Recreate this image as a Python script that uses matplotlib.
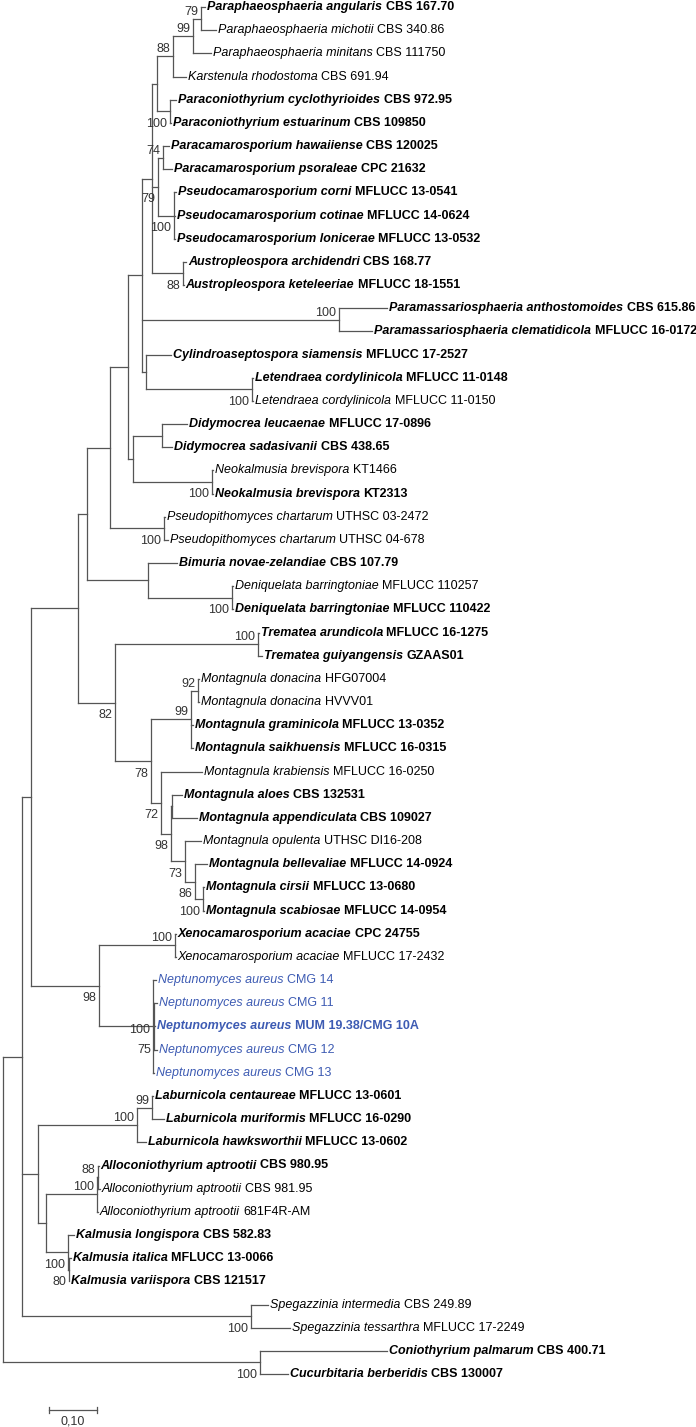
import matplotlib
matplotlib.use('Agg')
import matplotlib.pyplot as plt
from matplotlib.collections import LineCollection

plt.rcParams['font.family'] = ['Liberation Sans', 'DejaVu Sans']

# internal nodes, parents listed before children; branch lengths in subst./site
node_ids = ['I', 'O', 'U', 'A78', 'B87', 'C110', 'D128', 'E142', 'F152', 'G157',
            'H88', 'H99', 'H79', 'PCN', 'G158', 'PCM', 'PSC', 'AUS', 'PMS', 'CL',
            'LET', 'D133', 'DID', 'NEO', 'PSP', 'BIM', 'DEN', 'TM', 'TRE', 'M78',
            'M99', 'M92', 'M72', 'M98', 'MAA', 'M73', 'M86', 'M100', 'XN', 'XEN',
            'NEP', 'N75', 'LAK', 'LAB', 'L99', 'AK', 'ALL', 'A88', 'KAL', 'K80', 'SPE']
node_parent = ['R', 'R', 'I', 'U', 'A78', 'B87', 'C110', 'D128', 'E142', 'F152',
               'G157', 'H88', 'H99', 'G157', 'F152', 'G158', 'G158', 'F152', 'E142', 'E142',
               'CL', 'D128', 'D133', 'D133', 'C110', 'B87', 'BIM', 'A78', 'TM', 'TM',
               'M78', 'M99', 'M78', 'M72', 'M98', 'M98', 'M73', 'M86', 'U', 'XN',
               'XN', 'NEP', 'I', 'LAK', 'LAB', 'LAK', 'AK', 'ALL', 'AK', 'KAL', 'I']
node_length = [0.0396, 0.5354, 0.0188, 0.0979, 0.0188, 0.0479, 0.0375, 0.0292, 0.0208, 0.0104,
               0.0333, 0.0417, 0.0167, 0.0271, 0.0125, 0.0104, 0.0333, 0.0646, 0.4104, 0.0083,
               0.2208, 0.0104, 0.0604, 0.1646, 0.1125, 0.1271, 0.1750, 0.0771, 0.2979, 0.0750,
               0.0833, 0.0146, 0.0208, 0.0208, 0.0031, 0.0292, 0.0208, 0.0167, 0.1417, 0.1583,
               0.1125, 0.0021, 0.0333, 0.2063, 0.0313, 0.0167, 0.1063, 0.0021, 0.0458, 0.0021, 0.4771]
node_support = [None, 100, None, None, None, None, None, None, None, None,
                88, 99, 79, 100, 79, 74, 100, 88, 100, None,
                100, None, None, 100, 100, None, 100, 82, 100, 78,
                99, 92, 72, 98, None, 73, 86, 100, 98, 100,
                100, 75, None, 100, 99, None, 100, 88, 100, 80, 100]

# leaves, top to bottom
leaf_species = [
    'Paraphaeosphaeria angularis', 'Paraphaeosphaeria michotii', 'Paraphaeosphaeria minitans',
    'Karstenula rhodostoma', 'Paraconiothyrium cyclothyrioides', 'Paraconiothyrium estuarinum',
    'Paracamarosporium hawaiiense', 'Paracamarosporium psoraleae', 'Pseudocamarosporium corni',
    'Pseudocamarosporium cotinae', 'Pseudocamarosporium lonicerae', 'Austropleospora archidendri',
    'Austropleospora keteleeriae', 'Paramassariosphaeria anthostomoides',
    'Paramassariosphaeria clematidicola', 'Cylindroaseptospora siamensis',
    'Letendraea cordylinicola', 'Letendraea cordylinicola', 'Didymocrea leucaenae',
    'Didymocrea sadasivanii', 'Neokalmusia brevispora', 'Neokalmusia brevispora',
    'Pseudopithomyces chartarum', 'Pseudopithomyces chartarum', 'Bimuria novae-zelandiae',
    'Deniquelata barringtoniae', 'Deniquelata barringtoniae', 'Trematea arundicola',
    'Trematea guiyangensis', 'Montagnula donacina', 'Montagnula donacina',
    'Montagnula graminicola', 'Montagnula saikhuensis', 'Montagnula krabiensis',
    'Montagnula aloes', 'Montagnula appendiculata', 'Montagnula opulenta',
    'Montagnula bellevaliae', 'Montagnula cirsii', 'Montagnula scabiosae',
    'Xenocamarosporium acaciae', 'Xenocamarosporium acaciae', 'Neptunomyces aureus',
    'Neptunomyces aureus', 'Neptunomyces aureus', 'Neptunomyces aureus', 'Neptunomyces aureus',
    'Laburnicola centaureae', 'Laburnicola muriformis', 'Laburnicola hawksworthii',
    'Alloconiothyrium aptrootii', 'Alloconiothyrium aptrootii', 'Alloconiothyrium aptrootii',
    'Kalmusia longispora', 'Kalmusia italica', 'Kalmusia variispora',
    'Spegazzinia intermedia', 'Spegazzinia tessarthra', 'Coniothyrium palmarum',
    'Cucurbitaria berberidis']
leaf_strain = [
    'CBS 167.70', 'CBS 340.86', 'CBS 111750', 'CBS 691.94', 'CBS 972.95', 'CBS 109850',
    'CBS 120025', 'CPC 21632', 'MFLUCC 13-0541', 'MFLUCC 14-0624', 'MFLUCC 13-0532',
    'CBS 168.77', 'MFLUCC 18-1551', 'CBS 615.86', 'MFLUCC 16-0172', 'MFLUCC 17-2527',
    'MFLUCC 11-0148', 'MFLUCC 11-0150', 'MFLUCC 17-0896', 'CBS 438.65', 'KT1466', 'KT2313',
    'UTHSC 03-2472', 'UTHSC 04-678', 'CBS 107.79', 'MFLUCC 110257', 'MFLUCC 110422',
    'MFLUCC 16-1275', 'GZAAS01', 'HFG07004', 'HVVV01', 'MFLUCC 13-0352', 'MFLUCC 16-0315',
    'MFLUCC 16-0250', 'CBS 132531', 'CBS 109027', 'UTHSC DI16-208', 'MFLUCC 14-0924',
    'MFLUCC 13-0680', 'MFLUCC 14-0954', 'CPC 24755', 'MFLUCC 17-2432', 'CMG 14', 'CMG 11',
    'MUM 19.38/CMG 10A', 'CMG 12', 'CMG 13', 'MFLUCC 13-0601', 'MFLUCC 16-0290',
    'MFLUCC 13-0602', 'CBS 980.95', 'CBS 981.95', '681F4R-AM', 'CBS 582.83',
    'MFLUCC 13-0066', 'CBS 121517', 'CBS 249.89', 'MFLUCC 17-2249', 'CBS 400.71',
    'CBS 130007']
leaf_parent = ['H79', 'H79', 'H99', 'H88', 'PCN', 'PCN', 'PCM', 'PCM', 'PSC', 'PSC',
               'PSC', 'AUS', 'AUS', 'PMS', 'PMS', 'CL', 'LET', 'LET', 'DID', 'DID',
               'NEO', 'NEO', 'PSP', 'PSP', 'BIM', 'DEN', 'DEN', 'TRE', 'TRE', 'M92',
               'M92', 'M99', 'M99', 'M72', 'MAA', 'MAA', 'M73', 'M86', 'M100', 'M100',
               'XEN', 'XEN', 'NEP', 'N75', 'N75', 'N75', 'NEP', 'L99', 'L99', 'LAB',
               'A88', 'A88', 'ALL', 'KAL', 'K80', 'K80', 'SPE', 'SPE', 'O', 'O']
leaf_length = [0.0083, 0.0313, 0.0375, 0.0271, 0.0125, 0.0021, 0.0125, 0.0188, 0.0042, 0.0010,
               0.0010, 0.0063, 0.0010, 0.1000, 0.0688, 0.0521, 0.0021, 0.0021, 0.0521, 0.0208,
               0.0021, 0.0010, 0.0021, 0.0083, 0.0604, 0.0010, 0.0010, 0.0010, 0.0083, 0.0021,
               0.0021, 0.0031, 0.0042, 0.0854, 0.0198, 0.0510, 0.0333, 0.0250, 0.0021, 0.0021,
               0.0021, 0.0010, 0.0063, 0.0063, 0.0021, 0.0063, 0.0021, 0.0010, 0.0250, 0.0188,
               0.0010, 0.0031, 0.0010, 0.0125, 0.0042, 0.0010, 0.0354, 0.0813, 0.2646, 0.0583]
# 1 = ex-type strain (bold)
leaf_type = [1, 0, 0, 0, 1, 1, 1, 1, 1, 1,
             1, 1, 1, 1, 1, 1, 1, 0, 1, 1,
             0, 1, 0, 0, 1, 0, 1, 1, 1, 0,
             0, 1, 1, 0, 1, 1, 0, 1, 1, 1,
             1, 0, 0, 0, 1, 0, 0, 1, 1, 1,
             1, 0, 0, 1, 1, 1, 0, 0, 1, 1]
new_species = 'Neptunomyces aureus'
scale_length = 0.10

# layout (pixels)
W, H = 696, 1427
PX = 480.0          # pixels per substitution unit
ROOT_PX = 3
ROW0, ROW = 7, 23.17
label_above = {'H79', 'H99', 'H88', 'PCM', 'PMS', 'TRE', 'M92', 'M99', 'XEN',
               'LAB', 'L99', 'ALL', 'A88'}
label_dy_special = {'NEP': 4, 'N75': 23.5}
line_col = '#555555'
blue = '#3d5bb3'
fs = 9

# node positions
xpos = {'R': 0.0}
for n, p, l in zip(node_ids, node_parent, node_length):
    xpos[n] = xpos[p] + l
children = {}
for n, p in zip(node_ids, node_parent):
    children.setdefault(p, []).append(('n', n))
for i, p in enumerate(leaf_parent):
    children.setdefault(p, []).append(('l', i))
leaf_x = [xpos[p] + l for p, l in zip(leaf_parent, leaf_length)]

ypos = {}


def node_y(n):
    ys = []
    for kind, c in children[n]:
        ys.append(c if kind == 'l' else node_y(c))
    ypos[n] = (min(ys) + max(ys)) / 2.0
    ypos[(n, 'span')] = (min(ys), max(ys))
    return ypos[n]


node_y('R')

fig = plt.figure(figsize=(W / 100, H / 100), dpi=100)
ax = fig.add_axes([0, 0, 1, 1])
ax.set_xlim(-ROOT_PX / PX, (W - ROOT_PX) / PX)
ax.set_ylim((H - ROW0) / ROW, -ROW0 / ROW)
ax.axis('off')

segs = []
for n in ['R'] + node_ids:
    y0, y1 = ypos[(n, 'span')]
    segs.append([(xpos[n], y0), (xpos[n], y1)])
for n, p in zip(node_ids, node_parent):
    segs.append([(xpos[p], ypos[n]), (xpos[n], ypos[n])])
for i, p in enumerate(leaf_parent):
    segs.append([(xpos[p], i), (leaf_x[i], i)])
ax.add_collection(LineCollection(segs, colors=line_col, linewidths=0.9,
                                 capstyle='projecting'))

# bootstrap values
for n, s in zip(node_ids, node_support):
    if s is None:
        continue
    if n in label_dy_special:
        dy = label_dy_special[n]
    elif n in label_above:
        dy = -7
    else:
        dy = 12.5
    ax.text(xpos[n] - 2.5 / PX, ypos[n] + dy / ROW, str(s), ha='right', va='center',
            fontsize=fs, color='#333333')

# leaf labels
renderer = fig.canvas.get_renderer()
inv = ax.transData.inverted()
for i in range(len(leaf_species)):
    w = 'bold' if leaf_type[i] else 'normal'
    col = blue if leaf_species[i] == new_species else 'black'
    t = ax.text(leaf_x[i] + 2 / PX, i, leaf_species[i], style='italic', weight=w,
                ha='left', va='center', fontsize=fs, color=col)
    bb = t.get_window_extent(renderer)
    x2 = inv.transform((bb.x1 + 3.5, 0))[0]
    ax.text(x2, i, leaf_strain[i], weight=w, ha='left', va='center',
            fontsize=fs, color=col)

# scale bar
sx0 = (49 - ROOT_PX) / PX
sy = (1410 - ROW0) / ROW
tick = 3 / ROW
ax.plot([sx0, sx0 + scale_length], [sy, sy], color=line_col, lw=0.9)
ax.plot([sx0, sx0], [sy - tick, sy + tick], color=line_col, lw=0.9)
ax.plot([sx0 + scale_length] * 2, [sy - tick, sy + tick], color=line_col, lw=0.9)
ax.text(sx0 + scale_length / 2, sy + 11 / ROW, '0,10', ha='center', va='center',
        fontsize=fs, color='#333333')

fig.savefig('out.png', dpi=100)
